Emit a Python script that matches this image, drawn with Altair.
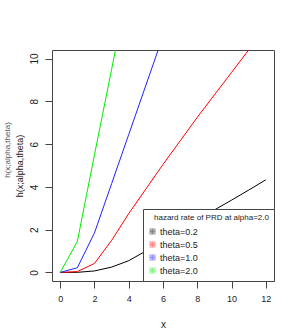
import altair as alt
import pandas as pd

# ---- data ----
x_vals = list(range(13))
theta_labels = ["theta=0.2", "theta=0.5", "theta=1.0", "theta=2.0"]
h_theta02 = [0, 0.005, 0.07, 0.25, 0.55, 1.0, 1.5, 1.98, 2.45, 2.92, 3.38, 3.85, 4.33]
h_theta05 = [0, 0.04, 0.42, 1.5, 2.75, 3.9, 5.05, 6.15, 7.25, 8.3, 9.35, 10.4, 11.45]
h_theta10 = [0, 0.22, 1.85, 4.15, 6.45, 8.75, 11.05]
h_theta20 = [0, 1.45, 5.5, 9.5, 13.5]
line_colors = ["#000000", "#ff0000", "#2020ff", "#00ee00"]
x_ticks = [0, 2, 4, 6, 8, 10, 12]
y_ticks = [0, 2, 4, 6, 8, 10]
legend_title = "\u2800hazard rate of PRD at alpha=2.0"
y_title = "h(x;alpha,theta)"

rows = []
for lab, series in zip(theta_labels, [h_theta02, h_theta05, h_theta10, h_theta20]):
    for xv, hv in zip(x_vals, series):
        rows.append({"x": xv, "h": hv, "theta": lab})
df = pd.DataFrame(rows)

REG = "Liberation Sans, Arial, sans-serif"
INK = "#222222"
BOX = "#444444"

# boxed plus drawn as a filled ring with a cross inside
box_plus = ("M-1,-1H1V1H-1Z "
            "M-0.65,-0.65V0.65H0.65V-0.65Z "
            "M-0.17,-0.65H0.17V0.65H-0.17Z "
            "M-0.65,-0.17H0.65V0.17H-0.65Z")

lines = alt.Chart(df).mark_line(clip=True, strokeWidth=1).encode(
    x=alt.X("x:Q",
            scale=alt.Scale(domain=[-0.48, 12.48], nice=False, zero=False),
            axis=alt.Axis(values=x_ticks, title="x", grid=False, domain=False,
                          tickSize=7, tickColor=BOX, labelFontSize=9,
                          labelFont=REG, labelColor=INK, labelPadding=6,
                          titleFont=REG, titleFontSize=10, titleFontWeight="normal",
                          titleColor=INK, titlePadding=16)),
    y=alt.Y("h:Q",
            scale=alt.Scale(domain=[-0.4, 10.4], nice=False, zero=False),
            axis=alt.Axis(values=y_ticks, title=y_title, grid=False, domain=False,
                          tickSize=7, tickColor=BOX, labelFontSize=10,
                          labelFont=REG, labelColor=INK, labelAngle=270,
                          labelAlign="center", labelBaseline="bottom", labelPadding=6,
                          titleFont=REG, titleFontSize=9, titleFontWeight="normal",
                          titleColor=INK, titlePadding=5)),
    color=alt.Color("theta:N",
                    scale=alt.Scale(domain=theta_labels, range=line_colors),
                    legend=alt.Legend(title=legend_title, orient="bottom-right", offset=0,
                                      symbolType=box_plus, symbolSize=30,
                                      symbolStrokeWidth=0.3,
                                      labelFont=REG, labelFontSize=9, labelColor=INK,
                                      titleFont=REG, titleFontSize=8,
                                      titleFontWeight="normal", titleColor=INK,
                                      titlePadding=5, rowPadding=3, padding=5,
                                      labelOffset=3,
                                      strokeColor=BOX, fillColor="white")),
    order=alt.Order("x:Q"),
)

ghost = alt.Chart(pd.DataFrame({"t": [y_title]})).mark_text(
    angle=270, fontSize=8, font=REG, color="#555555", baseline="bottom", align="center"
).encode(x=alt.value(-40), y=alt.value(100), text="t:N")

chart = alt.layer(lines, ghost).properties(
    width=222, height=231,
    autosize=alt.AutoSizeParams(type="none"),
    padding={"left": 52, "top": 50, "right": 33, "bottom": 49},
).configure_view(stroke=BOX, strokeWidth=1)

chart.save("out.html", embed_options={"renderer": "svg", "actions": False})
